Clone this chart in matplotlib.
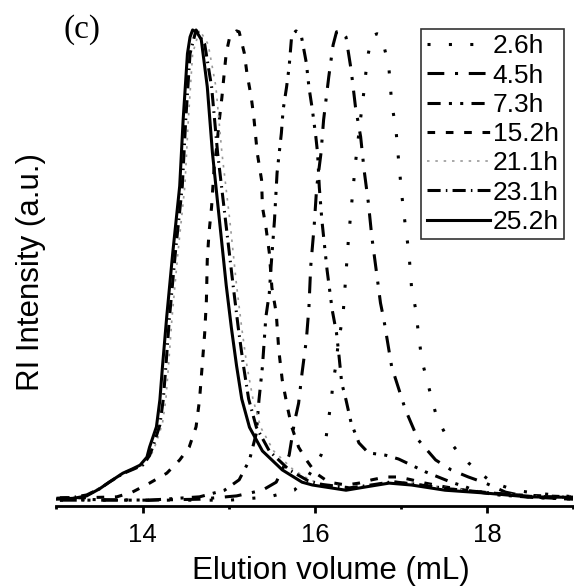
import matplotlib
matplotlib.use('Agg')
import matplotlib.pyplot as plt
from matplotlib.ticker import MultipleLocator

plt.rcParams['font.family'] = ['Liberation Sans', 'DejaVu Sans']

# elution volume (mL) / RI intensity (a.u.)
vol_2_6h = [13.04, 14.66, 15.01, 15.47, 15.76, 15.93, 16.07, 16.13, 16.16, 16.19, 16.21, 16.24,
            16.27, 16.30, 16.33, 16.36, 16.39, 16.43, 16.47, 16.52, 16.57, 16.59, 16.62, 16.66,
            16.72, 16.77, 16.82, 16.86, 16.89, 16.94, 16.97, 17.01, 17.05, 17.09, 17.12, 17.17,
            17.20, 17.24, 17.32, 17.40, 17.47, 17.55, 17.66, 17.78, 17.90, 18.05, 18.32, 18.55,
            18.79, 19.00]
ri_2_6h = [0.006, 0.006, 0.006, 0.013, 0.027, 0.059, 0.101, 0.140, 0.180, 0.218, 0.256, 0.288,
           0.338, 0.370, 0.408, 0.486, 0.562, 0.641, 0.719, 0.799, 0.873, 0.909, 0.951, 0.987,
           0.992, 0.989, 0.951, 0.915, 0.846, 0.789, 0.725, 0.647, 0.584, 0.529, 0.457, 0.408,
           0.359, 0.302, 0.245, 0.190, 0.161, 0.133, 0.108, 0.085, 0.066, 0.044, 0.027, 0.021,
           0.017, 0.013]

vol_4_5h = [13.04, 14.08, 14.66, 15.09, 15.39, 15.55, 15.70, 15.76, 15.81, 15.85, 15.90, 15.93,
            15.95, 15.99, 16.02, 16.07, 16.10, 16.16, 16.21, 16.25, 16.31, 16.36, 16.42, 16.47,
            16.53, 16.57, 16.62, 16.66, 16.71, 16.76, 16.80, 16.89, 17.05, 17.20, 17.40, 17.58,
            17.78, 17.98, 18.21, 18.47, 19.00]
ri_4_5h = [0.006, 0.006, 0.008, 0.015, 0.027, 0.044, 0.101, 0.169, 0.211, 0.275, 0.345, 0.414,
           0.499, 0.584, 0.668, 0.740, 0.810, 0.901, 0.968, 0.996, 0.998, 0.985, 0.915, 0.837,
           0.774, 0.704, 0.634, 0.562, 0.493, 0.423, 0.387, 0.288, 0.197, 0.133, 0.091, 0.070,
           0.055, 0.042, 0.023, 0.013, 0.008]

vol_7_3h = [13.04, 14.08, 14.66, 14.95, 15.12, 15.24, 15.32, 15.35, 15.39, 15.43, 15.47, 15.49,
            15.53, 15.56, 15.61, 15.63, 15.67, 15.70, 15.73, 15.78, 15.84, 15.90, 15.93, 15.97,
            16.01, 16.03, 16.05, 16.08, 16.14, 16.20, 16.25, 16.28, 16.31, 16.36, 16.42, 16.51,
            16.62, 16.82, 16.97, 17.12, 17.28, 17.43, 17.58, 17.75, 17.90, 18.13, 18.59, 19.00]
ri_7_3h = [0.008, 0.006, 0.013, 0.027, 0.049, 0.091, 0.148, 0.218, 0.288, 0.393, 0.444, 0.499,
           0.598, 0.698, 0.782, 0.831, 0.879, 0.922, 0.989, 0.998, 0.989, 0.930, 0.879, 0.831,
           0.774, 0.740, 0.668, 0.598, 0.493, 0.408, 0.359, 0.309, 0.254, 0.218, 0.169, 0.127,
           0.106, 0.101, 0.093, 0.080, 0.066, 0.055, 0.044, 0.034, 0.023, 0.017, 0.011, 0.008]

vol_15_2h = [13.04, 13.31, 13.70, 13.88, 14.08, 14.28, 14.43, 14.54, 14.62, 14.66, 14.69, 14.72,
             14.74, 14.75, 14.77, 14.80, 14.83, 14.86, 14.89, 14.92, 14.95, 14.97, 15.01, 15.09,
             15.12, 15.18, 15.21, 15.26, 15.29, 15.33, 15.38, 15.39, 15.43, 15.47, 15.50, 15.55,
             15.58, 15.62, 15.68, 15.73, 15.81, 15.90, 16.01, 16.16, 16.36, 16.51, 16.66, 16.82,
             16.97, 17.12, 17.28, 17.51, 17.75, 18.05, 18.36, 18.97]
ri_15_2h = [0.011, 0.011, 0.013, 0.023, 0.042, 0.063, 0.091, 0.118, 0.161, 0.218, 0.288, 0.359,
            0.429, 0.514, 0.571, 0.626, 0.710, 0.753, 0.810, 0.858, 0.915, 0.951, 0.985, 0.998,
            0.996, 0.951, 0.909, 0.858, 0.816, 0.740, 0.683, 0.626, 0.584, 0.529, 0.455, 0.402,
            0.323, 0.260, 0.203, 0.161, 0.118, 0.091, 0.063, 0.044, 0.038, 0.042, 0.049, 0.055,
            0.055, 0.049, 0.042, 0.034, 0.027, 0.021, 0.017, 0.013]

vol_21_1h = [13.00, 13.20, 13.35, 13.50, 13.65, 13.80, 13.92, 14.02, 14.10, 14.16, 14.23, 14.27,
             14.30, 14.34, 14.41, 14.49, 14.53, 14.58, 14.66, 14.76, 14.85, 14.92, 15.01, 15.09,
             15.15, 15.21, 15.28, 15.37, 15.52, 15.75, 15.95, 16.10, 16.45, 16.70, 16.92, 17.18,
             17.58, 18.05, 18.50, 19.00]
ri_21_1h = [0.010, 0.012, 0.018, 0.032, 0.047, 0.064, 0.074, 0.082, 0.102, 0.128, 0.168, 0.220,
            0.290, 0.390, 0.530, 0.670, 0.810, 0.950, 1.000, 0.970, 0.880, 0.740, 0.600, 0.460,
            0.370, 0.290, 0.220, 0.160, 0.110, 0.070, 0.048, 0.040, 0.033, 0.040, 0.046, 0.041,
            0.031, 0.022, 0.015, 0.012]

vol_23_1h = [13.00, 13.20, 13.35, 13.50, 13.62, 13.77, 13.90, 14.00, 14.08, 14.13, 14.20, 14.24,
             14.27, 14.31, 14.38, 14.46, 14.50, 14.55, 14.62, 14.72, 14.80, 14.87, 14.96, 15.05,
             15.11, 15.17, 15.23, 15.32, 15.47, 15.70, 15.92, 16.05, 16.40, 16.65, 16.90, 17.15,
             17.55, 18.00, 18.50, 19.00]
ri_23_1h = [0.010, 0.012, 0.017, 0.030, 0.045, 0.062, 0.072, 0.080, 0.100, 0.125, 0.165, 0.220,
            0.290, 0.390, 0.530, 0.670, 0.810, 0.950, 1.000, 0.970, 0.880, 0.740, 0.600, 0.460,
            0.370, 0.290, 0.220, 0.160, 0.110, 0.070, 0.047, 0.040, 0.032, 0.038, 0.045, 0.040,
            0.030, 0.022, 0.014, 0.012]

vol_25_2h = [13.00, 13.20, 13.35, 13.50, 13.62, 13.77, 13.88, 13.97, 14.05, 14.08, 14.16, 14.20,
             14.23, 14.28, 14.35, 14.43, 14.47, 14.52, 14.55, 14.58, 14.63, 14.68, 14.75, 14.81,
             14.89, 14.97, 15.03, 15.09, 15.15, 15.24, 15.39, 15.62, 15.85, 15.97, 16.36, 16.59,
             16.86, 17.12, 17.51, 17.98, 18.47, 19.00]
ri_25_2h = [0.008, 0.010, 0.015, 0.030, 0.045, 0.063, 0.072, 0.080, 0.097, 0.118, 0.161, 0.218,
            0.288, 0.395, 0.530, 0.670, 0.810, 0.950, 0.985, 1.000, 0.995, 0.980, 0.880, 0.740,
            0.600, 0.460, 0.370, 0.290, 0.220, 0.160, 0.110, 0.070, 0.044, 0.038, 0.027, 0.034,
            0.042, 0.038, 0.027, 0.021, 0.013, 0.012]

labels = ['2.6h', '4.5h', '7.3h', '15.2h', '21.1h', '23.1h', '25.2h']

fig = plt.figure(figsize=(5.74, 5.88), dpi=100)
ax = fig.add_axes([0.0984, 0.1395, 0.9007, 0.8265])

series = [(vol_2_6h, ri_2_6h, dict(color='black', lw=2.2, ls=(0, (1, 6)))),
          (vol_4_5h, ri_4_5h, dict(color='black', lw=2.2, ls=(0, (5.5, 3.5, 1, 3.5)))),
          (vol_7_3h, ri_7_3h, dict(color='black', lw=2.2, ls=(0, (4.3, 2.7, 1, 2.7, 1, 2.7)))),
          (vol_15_2h, ri_15_2h, dict(color='black', lw=2.2, ls=(0, (2.5, 3.5)))),
          (vol_21_1h, ri_21_1h, dict(color='#9a9a9a', lw=1.2, ls=(0, (1.5, 3.5)))),
          (vol_23_1h, ri_23_1h, dict(color='black', lw=2.2, ls=(0, (4.3, 1.7, 0.5, 1.7)))),
          (vol_25_2h, ri_25_2h, dict(color='black', lw=2.2, ls='-'))]

for (v, r, st), lab in zip(series, labels):
    ax.plot(v, r, label=lab, **st)

ax.set_xlim(13, 19)
ax.set_ylim(-0.0063, 1.0211)
for s in ['left', 'top', 'right']:
    ax.spines[s].set_visible(False)
ax.spines['bottom'].set_linewidth(2)
ax.set_yticks([])
ax.xaxis.set_minor_locator(MultipleLocator(1))
ax.set_xticks([14, 16, 18])
ax.tick_params(axis='x', which='major', direction='out', length=5, width=2, labelsize=18.5, pad=7)
ax.tick_params(axis='x', which='minor', direction='out', length=2.5, width=2)

fig.text(31 / 574, 1 - 272 / 588, 'RI Intensity (a.u.)', rotation=90, ha='center', va='center', fontsize=22.5)
fig.text(331 / 574, 1 - 579 / 588, 'Elution volume (mL)', ha='center', va='baseline', fontsize=22.5)
fig.text(82 / 574, 1 - 30 / 588, '(c)', ha='center', va='center', fontsize=24, family='Liberation Serif')

leg = ax.legend(loc='upper right', bbox_to_anchor=(564 / 574, 1 - 29 / 588), bbox_transform=fig.transFigure,
                fontsize=19, frameon=True, fancybox=False, framealpha=1, edgecolor='#333333',
                handlelength=2.4, handletextpad=0.1, labelspacing=0.2, borderpad=0.2, borderaxespad=0)
leg.get_frame().set_linewidth(1.2)

fig.savefig('out.png', dpi=100)
